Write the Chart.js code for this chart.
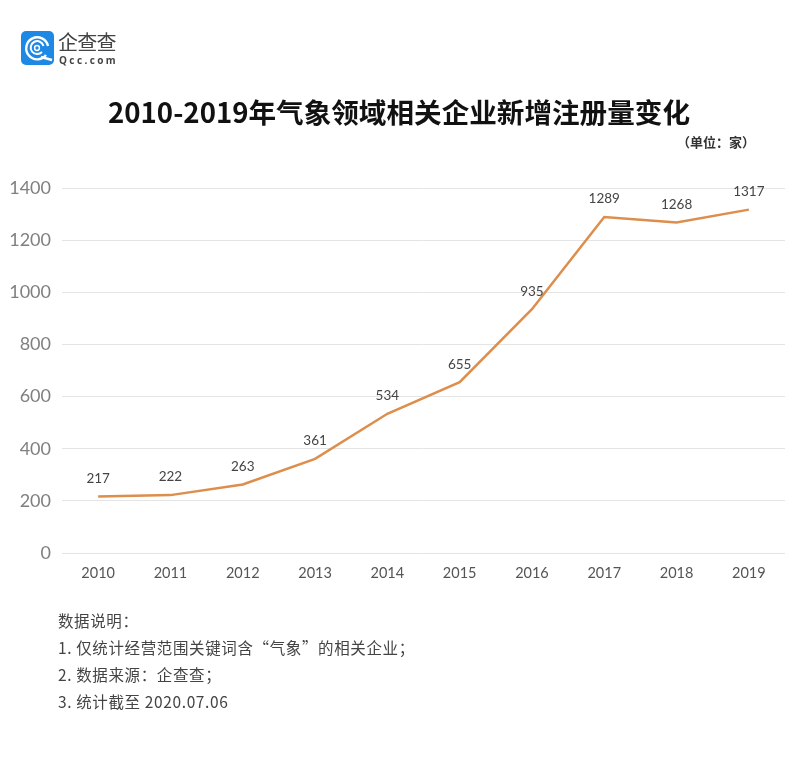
<!DOCTYPE html>
<html>
<head>
<meta charset="utf-8">
<script src="https://cdn.jsdelivr.net/npm/chart.js@4"></script>
<style>
    html, body { margin: 0; padding: 0; background: #fff; }
    #page { position: relative; width: 800px; height: 757px; overflow: hidden; font-family: "Noto Sans CJK SC", sans-serif; }
    #page div { position: absolute; white-space: nowrap; }
    canvas { position: absolute; left: 0; top: 0; }
    #logo { left: 21px; top: 31px; width: 33px; height: 34px; background: #1e88e5; border-radius: 5px; }
    #logo svg { display: block; }
    #brand { left: 58px; top: 29px; font-size: 20px; line-height: 26px; color: #444; letter-spacing: -0.7px; }
    #domain { left: 59px; top: 54px; font-family: "Open Sans", sans-serif; font-size: 10px; line-height: 12px; font-weight: 700; color: #444; letter-spacing: 2.4px; }
    #title { left: 0; width: 798px; text-align: center; top: 91px; font-size: 27.6px; line-height: 40px; font-weight: 700; color: #111; }
    #unit { left: 677px; top: 132px; font-size: 13px; line-height: 20px; font-weight: 700; color: #333; }
    .note { left: 58px; font-size: 15.5px; line-height: 22px; color: #444; letter-spacing: 0.62px; }
</style>
</head>
<body>
<div id="page">
    <canvas id="resultChart" width="800" height="757"></canvas>
    <div id="logo">
        <svg width="33" height="34" viewBox="0 0 33 34">
            <path d="M25 24 A11 11 0 1 1 27 15" fill="none" stroke="#fff" stroke-width="2.4"/>
            <path d="M21 21 A6.5 6.5 0 1 1 22.5 15" fill="none" stroke="#fff" stroke-width="2"/>
            <circle cx="16" cy="17" r="2.4" fill="none" stroke="#fff" stroke-width="1.5"/>
            <path d="M20 26 L31 29" stroke="#fff" stroke-width="2.6"/>
        </svg>
    </div>
    <div id="brand">企查查</div>
    <div id="domain">Qcc.com</div>
    <div id="title">2010-2019年气象领域相关企业新增注册量变化</div>
    <div id="unit">（单位：家）</div>
    <div class="note" style="top:609px">数据说明：</div>
    <div class="note" style="top:636px">1. 仅统计经营范围关键词含“气象”的相关企业；</div>
    <div class="note" style="top:663px">2. 数据来源：企查查；</div>
    <div class="note" style="top:690px">3. 统计截至 2020.07.06</div>
</div>
<script>
const years = ['2010', '2011', '2012', '2013', '2014', '2015', '2016', '2017', '2018', '2019'];
const newFirms = [217, 222, 263, 361, 534, 655, 935, 1289, 1268, 1317];
const yTicks = [0, 200, 400, 600, 800, 1000, 1200, 1400];

// 折れ線の上に数値を描く
const valueLabels = {
    id: 'valueLabels',
    afterDatasetsDraw(chart) {
        const { ctx } = chart;
        ctx.save();
        ctx.font = '13.5px Lato, sans-serif';
        ctx.fillStyle = '#444';
        ctx.textAlign = 'center';
        ctx.textBaseline = 'middle';
        chart.getDatasetMeta(0).data.forEach((pt, i) => {
            ctx.fillText(newFirms[i], pt.x, pt.y - 18);
        });
        ctx.restore();
    }
};

new Chart(document.getElementById('resultChart').getContext('2d'), {
    type: 'line',
    data: {
        labels: years,
        datasets: [{
            data: newFirms,
            borderColor: '#dd8d4c',
            borderWidth: 2.5,
            tension: 0,
            pointRadius: 0
        }]
    },
    options: {
        responsive: false,
        animation: false,
        layout: { padding: { top: 188, right: 15, left: 0, bottom: 0 } },
        plugins: { legend: { display: false }, tooltip: { enabled: false } },
        scales: {
            x: {
                offset: true,
                afterFit: s => { s.height = 204; },
                grid: { display: false },
                border: { display: false },
                ticks: {
                    color: '#555',
                    padding: 4,
                    maxRotation: 0,
                    font: { family: 'Lato, sans-serif', size: 14.5 }
                }
            },
            y: {
                min: 0,
                max: 1400,
                afterFit: s => { s.width = 62; },
                afterBuildTicks: s => { s.ticks = yTicks.map(v => ({ value: v })); },
                grid: { color: '#e4e4e4', drawTicks: false },
                border: { display: false },
                ticks: {
                    color: '#808080',
                    padding: 11,
                    callback: v => String(v),
                    font: { family: 'Lato, sans-serif', size: 18 }
                }
            }
        }
    },
    plugins: [valueLabels]
});
</script>
</body>
</html>
